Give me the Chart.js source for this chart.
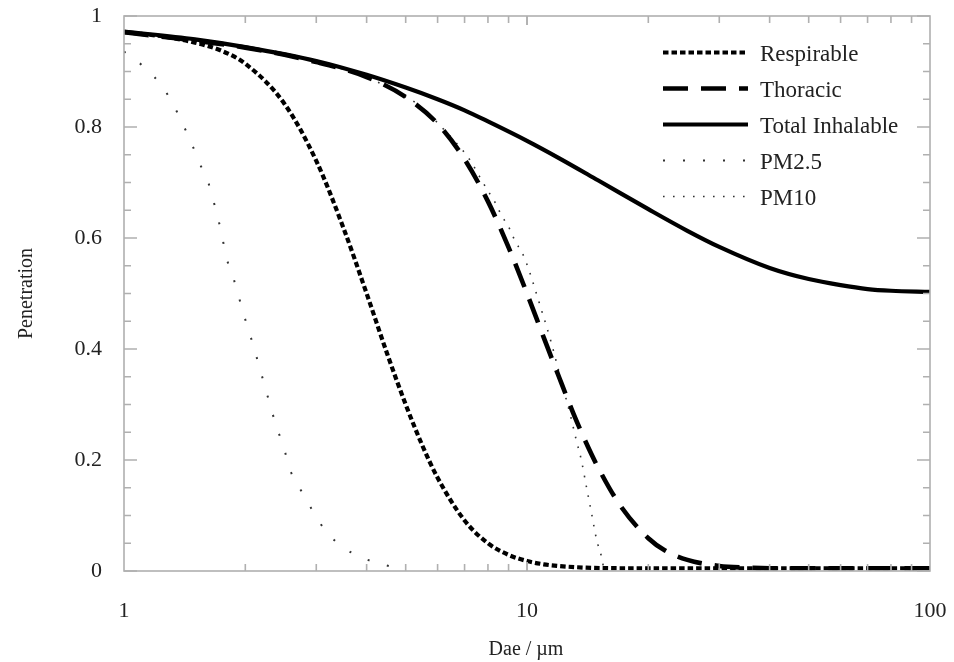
<!DOCTYPE html>
<html><head><meta charset="utf-8">
<script src="https://cdn.jsdelivr.net/npm/chart.js@4.4.1/dist/chart.umd.min.js"></script>
<style>html,body{margin:0;padding:0;background:#fff;}#wrap{width:954px;height:662px;}</style>
</head><body><div id="wrap"><canvas id="c" width="954" height="662"></canvas></div>
<script>
// ---- data (aerodynamic diameter Dae in µm, penetration fraction) ----
const seriesNames = ['Respirable', 'Thoracic', 'Total Inhalable', 'PM2.5', 'PM10'];

const respirableX = [1,1.25,1.5,1.75,2,2.5,3,3.5,4,4.5,5,5.5,6,7,8,9,10,11,12,14,17,20,30,50,100];
const respirableY = [0.971,0.963,0.952,0.937,0.914,0.842,0.739,0.619,0.500,0.391,0.300,0.226,0.168,0.091,0.050,0.029,0.018,0.012,0.009,0.006,0.005,0.005,0.005,0.005,0.005];

const thoracicX = [1,2,3,4,5,6,7,8,9,10,11,12,13,14,15,17,20,22,25,30,35,40,60,100];
const thoracicY = [0.971,0.943,0.917,0.890,0.854,0.806,0.742,0.666,0.583,0.500,0.421,0.350,0.286,0.232,0.187,0.119,0.059,0.037,0.020,0.009,0.006,0.005,0.005,0.005];

const inhalableX = [1,1.5,2,3,4,5,6,7,8,10,12,15,20,25,30,40,50,60,70,80,100];
const inhalableY = [0.972,0.958,0.944,0.919,0.894,0.871,0.850,0.830,0.810,0.775,0.744,0.704,0.652,0.613,0.584,0.546,0.526,0.515,0.508,0.505,0.503];

const pm25X = [1.0,1.13,1.25,1.33,1.4,1.47,1.54,1.62,1.67,1.72,1.76,1.8,1.87,1.93,1.99,2.06,2.13,2.2,2.27,2.34,2.42,2.51,2.6,2.76,2.93,3.15,3.51,3.93,4.37,4.95];
const pm25Y = [0.936,0.906,0.871,0.838,0.805,0.771,0.735,0.699,0.665,0.629,0.595,0.562,0.527,0.492,0.458,0.423,0.387,0.351,0.316,0.282,0.249,0.214,0.177,0.143,0.110,0.074,0.042,0.023,0.012,0.003];

const pm10X = [1,2,3,4,5,5.31,6.49,7.21,7.62,7.92,8.32,8.64,9.05,9.32,9.79,10.18,10.58,11.47,12.15,12.87,13.25,13.64,14.04,14.46,14.89,15.3,15.5];
const pm10Y = [0.971,0.943,0.917,0.890,0.854,0.843,0.781,0.741,0.711,0.690,0.665,0.641,0.617,0.596,0.569,0.536,0.497,0.413,0.344,0.275,0.236,0.200,0.152,0.104,0.056,0.026,0.005];

const xTickValues = [1, 10, 100];
const yTickStep = 0.2;
const xTitle = 'Dae / µm';
const yTitle = 'Penetration';

// ---- build ----
const pts = (xs, ys) => xs.map((x, i) => ({x: x, y: ys[i]}));
const FONT = "'Liberation Serif','Times New Roman',serif";

const styles = [
  {color:'#000', width:4.2, dash:[5.5,3]},
  {color:'#000', width:4.6, dash:[25,13]},
  {color:'#000', width:4.2, dash:[]},
  {color:'#333', width:2, dash:[2,18]},
  {color:'#333', width:1.6, dash:[1.6,8.4]}
];
const dataLists = [pts(respirableX,respirableY), pts(thoracicX,thoracicY), pts(inhalableX,inhalableY), pts(pm25X,pm25Y), pts(pm10X,pm10Y)];

const datasets = seriesNames.map((n, i) => ({
  label: n,
  data: dataLists[i],
  borderColor: styles[i].color,
  borderWidth: styles[i].width,
  borderDash: styles[i].dash,
  borderCapStyle: 'butt',
  pointRadius: 0,
  fill: false,
  cubicInterpolationMode: 'monotone'
}));

const framePlugin = {
  id: 'frame',
  afterDraw(chart) {
    const ctx = chart.ctx;
    const a = chart.chartArea;
    const xs = chart.scales.x, ys = chart.scales.y;
    ctx.save();
    ctx.strokeStyle = '#b0b0b0';
    ctx.lineWidth = 1.6;
    ctx.setLineDash([]);
    ctx.strokeRect(a.left, a.top, a.right - a.left, a.bottom - a.top);
    // y ticks
    for (let k = 0; k <= 20; k++) {
      const v = k * 0.05;
      const y = ys.getPixelForValue(v);
      const major = (k % 4 === 0);
      const len = major ? 13 : 7;
      ctx.beginPath();
      ctx.moveTo(a.left, y); ctx.lineTo(a.left + len, y);
      ctx.moveTo(a.right, y); ctx.lineTo(a.right - len, y);
      ctx.stroke();
    }
    // x ticks
    for (let e = 0; e < 2; e++) {
      for (let m = 1; m <= 10; m++) {
        const v = m * Math.pow(10, e);
        if (v <= 1 || v >= 100) continue;
        const x = xs.getPixelForValue(v);
        const len = (m === 10 || m === 1) ? 9 : 7;
        ctx.beginPath();
        ctx.moveTo(x, a.bottom); ctx.lineTo(x, a.bottom - len);
        ctx.moveTo(x, a.top); ctx.lineTo(x, a.top + len);
        ctx.stroke();
      }
    }
    // axis titles
    ctx.fillStyle = '#222';
    ctx.font = '20px ' + FONT;
    ctx.textAlign = 'center';
    ctx.textBaseline = 'middle';
    ctx.fillText(xTitle, (a.left + a.right) / 2 - 1, 650);
    ctx.save();
    ctx.translate(27, (a.top + a.bottom) / 2);
    ctx.rotate(-Math.PI / 2);
    ctx.fillText(yTitle, 0, 0);
    ctx.restore();
    // legend
    chart.data.datasets.forEach((ds, i) => {
      const y = 52.5 + 36 * i;
      ctx.beginPath();
      ctx.strokeStyle = ds.borderColor;
      ctx.lineWidth = ds.borderWidth;
      ctx.lineCap = 'butt';
      ctx.setLineDash(ds.borderDash || []);
      ctx.moveTo(663, y); ctx.lineTo(748, y);
      ctx.stroke();
      ctx.setLineDash([]);
      ctx.fillStyle = '#222';
      ctx.font = '23px ' + FONT;
      ctx.textAlign = 'left';
      ctx.textBaseline = 'middle';
      ctx.fillText(ds.label, 760, y + 2.5);
    });
    ctx.restore();
  }
};

new Chart(document.getElementById('c'), {
  type: 'line',
  data: {datasets: datasets},
  options: {
    responsive: false,
    animation: false,
    devicePixelRatio: 1,
    layout: {padding: {top: 16, right: 24, left: 0, bottom: 0}},
    plugins: {legend: {display: false}, tooltip: {enabled: false}},
    scales: {
      x: {
        type: 'logarithmic',
        min: 1, max: 100,
        afterBuildTicks: s => { s.ticks = xTickValues.map(v => ({value: v})); },
        afterFit: s => { s.height = 91; s.paddingLeft = 0; s.paddingRight = 0; },
        ticks: {
          callback: v => String(v),
          font: {family: FONT, size: 22},
          color: '#222',
          padding: 27,
          maxRotation: 0,
          autoSkip: false
        },
        grid: {display: false, drawTicks: false},
        border: {display: false}
      },
      y: {
        min: 0, max: 1,
        afterFit: s => { s.width = 124; s.paddingTop = 0; s.paddingBottom = 0; },
        ticks: {
          stepSize: yTickStep,
          callback: v => String(+v.toFixed(2)),
          font: {family: FONT, size: 22},
          color: '#222',
          padding: 22
        },
        grid: {display: false, drawTicks: false},
        border: {display: false}
      }
    }
  },
  plugins: [framePlugin]
});
</script>
</body></html>
